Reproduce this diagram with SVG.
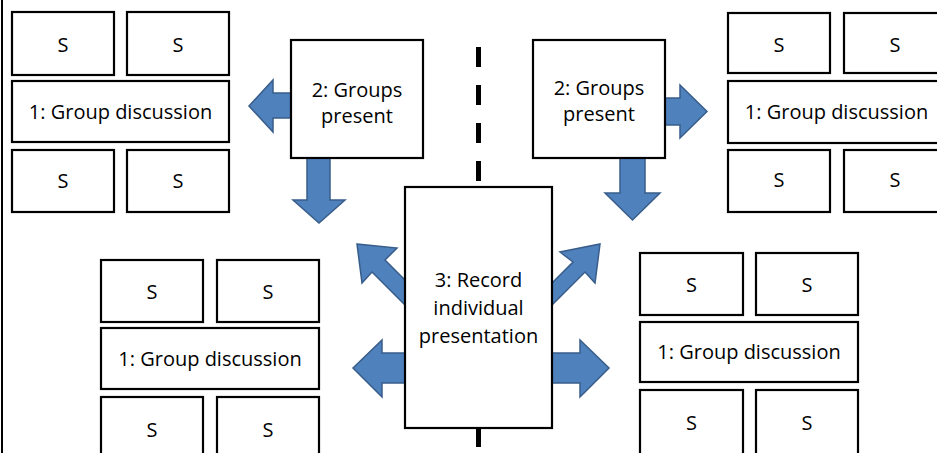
<svg xmlns="http://www.w3.org/2000/svg" width="937" height="453" viewBox="0 0 937 453">
<style>
.box{fill:#fff;stroke:#000;stroke-width:2.2}
.t{font-family:"Open Sans","Liberation Sans",sans-serif;font-size:20px;fill:#000;text-anchor:middle}
.arr{fill:#4F81BD;stroke:#385D8A;stroke-width:1.5;stroke-linejoin:miter}
</style>
<rect width="937" height="453" fill="#fff"/>
<line x1="2" y1="0" x2="2" y2="453" stroke="#000" stroke-width="2"/>
<line id="divider" x1="478.5" y1="47" x2="478.5" y2="453" stroke="#000" stroke-width="5" stroke-dasharray="20 18"/>
<g id="connectors">
<polygon class="arr" points="249,106 273,80 273,93 293,93 293,118 273,118 273,132"/>
<polygon class="arr" points="307,157 330,157 330,200 345,200 319,223 293,200 307,200"/>
<polygon class="arr" points="664,98 680,98 680,85 707,111.5 680,138 680,125 664,125"/>
<polygon class="arr" points="620,157 645,157 645,193 660,193 632.5,220 605,193 620,193"/>
<polygon class="arr" points="353,368 382,340 382,353 407,353 407,383 382,383 382,397"/>
<polygon class="arr" points="550,353 580,353 580,340 609,368 580,397 580,383 550,383"/>
<polygon class="arr" points="357,244 397,248 385,260 410,285 410,310 372,272 362,283"/>
<polygon class="arr" points="600,244 595,283 585,272 547,310 547,288 573,262 560,252"/>
</g>
<g id="group-tl">
<rect class="box" x="12" y="12" width="102" height="63"/><text class="t" x="63" y="52">S</text>
<rect class="box" x="127" y="12" width="102" height="63"/><text class="t" x="178" y="52">S</text>
<rect class="box" x="12" y="81" width="217" height="61"/><text class="t" x="120.5" y="119">1: Group discussion</text>
<rect class="box" x="12" y="150" width="102" height="62"/><text class="t" x="63" y="188">S</text>
<rect class="box" x="127" y="150" width="102" height="62"/><text class="t" x="178" y="188">S</text>
</g>
<g id="group-tr">
<rect class="box" x="728" y="13" width="102" height="60"/><text class="t" x="779" y="52">S</text>
<rect class="box" x="844" y="13" width="102" height="60"/><text class="t" x="895" y="52">S</text>
<rect class="box" x="728" y="81" width="218" height="62"/><text class="t" x="836.5" y="119">1: Group discussion</text>
<rect class="box" x="728" y="150" width="102" height="62"/><text class="t" x="779" y="187">S</text>
<rect class="box" x="844" y="150" width="102" height="62"/><text class="t" x="895" y="187">S</text>
</g>
<g id="group-bl">
<rect class="box" x="101" y="260" width="102" height="62"/><text class="t" x="152" y="299">S</text>
<rect class="box" x="217" y="260" width="102" height="62"/><text class="t" x="268" y="299">S</text>
<rect class="box" x="101" y="328" width="218" height="61"/><text class="t" x="210" y="366">1: Group discussion</text>
<rect class="box" x="101" y="397" width="102" height="66"/><text class="t" x="152" y="437">S</text>
<rect class="box" x="217" y="397" width="102" height="66"/><text class="t" x="268" y="437">S</text>
</g>
<g id="group-br">
<rect class="box" x="640" y="253" width="103" height="62"/><text class="t" x="691.5" y="292">S</text>
<rect class="box" x="756" y="253" width="102" height="62"/><text class="t" x="807" y="292">S</text>
<rect class="box" x="640" y="322" width="218" height="60"/><text class="t" x="749" y="359">1: Group discussion</text>
<rect class="box" x="640" y="390" width="103" height="66"/><text class="t" x="691.5" y="430">S</text>
<rect class="box" x="756" y="390" width="102" height="66"/><text class="t" x="807" y="430">S</text>
</g>
<g id="present-left">
<rect class="box" x="291" y="40" width="132" height="118"/>
<text class="t" x="357" y="97">2: Groups</text><text class="t" x="357" y="123">present</text>
</g>
<g id="present-right">
<rect class="box" x="533" y="40" width="132" height="118"/>
<text class="t" x="599" y="95">2: Groups</text><text class="t" x="599" y="121">present</text>
</g>
<g id="record">
<rect class="box" x="405" y="187" width="147" height="241"/>
<text class="t" x="478.5" y="287">3: Record</text>
<text class="t" x="478.5" y="315">individual</text>
<text class="t" x="478.5" y="343">presentation</text>
</g>
</svg>
